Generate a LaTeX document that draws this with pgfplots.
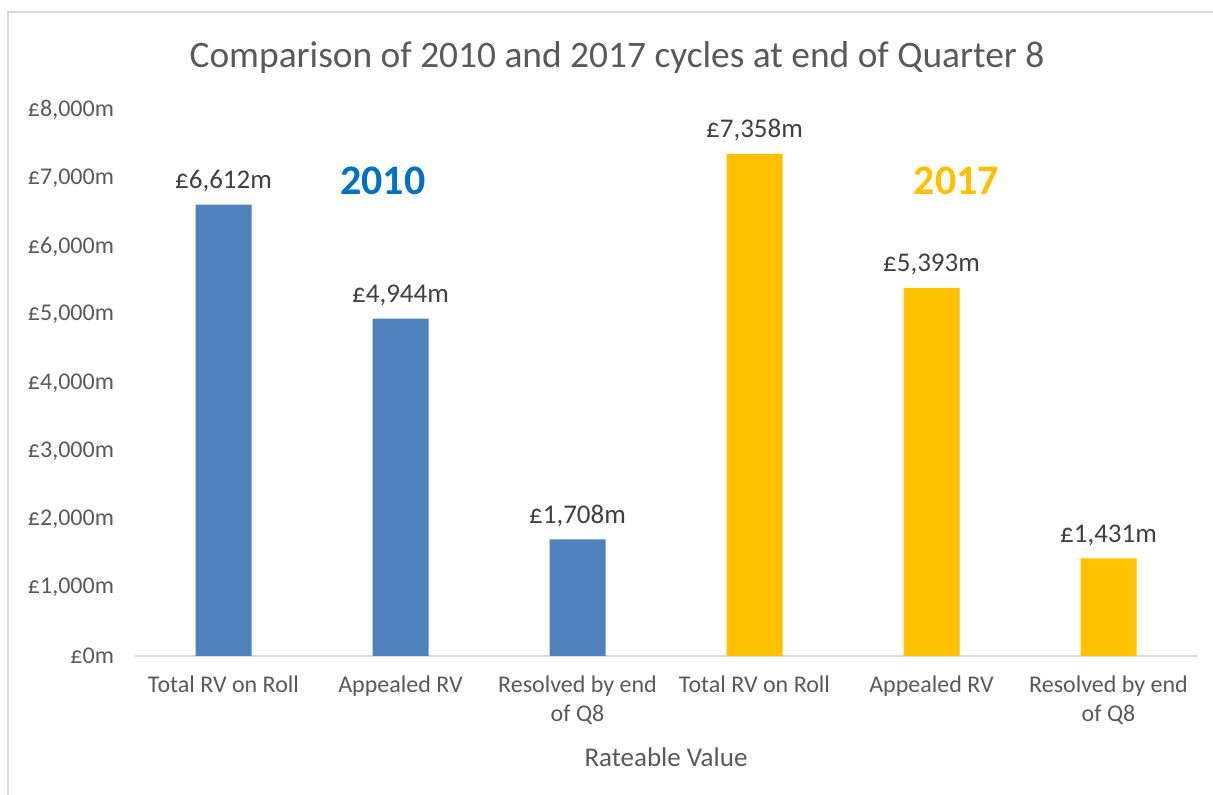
\documentclass[border=0pt]{standalone}
\usepackage{fontspec}
\setmainfont{Carlito}
\usepackage{pgfplots}
\pgfplotsset{compat=1.18}

\definecolor{bar10}{HTML}{4F81BD}
\definecolor{bar17}{HTML}{FFC000}
\definecolor{yr10}{HTML}{0070C0}
\definecolor{txtgray}{HTML}{595959}
\definecolor{lblgray}{HTML}{404040}
\definecolor{framegray}{HTML}{D9D9D9}

\pgfkeys{/pgf/number format/.cd, fixed, precision=0, 1000 sep={,}, assume math mode=true}

\begin{document}
\begin{tikzpicture}[x=1pt,y=1pt]
\useasboundingbox (0,0) rectangle (606.5,397.5);
\draw[framegray, line width=0.8pt] (4,0) -- (4,391.5) -- (606.5,391.5);
\node[txtgray, font=\fontsize{18.7}{22}\selectfont] at (308.5,368.5)
  {Comparison of 2010 and 2017 cycles at end of Quarter 8};

\begin{axis}[
    at={(67.5pt,69.5pt)}, anchor=south west,
    scale only axis,
    width=531pt, height=273pt,
    xmin=-0.5, xmax=5.5,
    ymin=0, ymax=8000,
    clip=false,
    axis x line*=bottom,
    axis y line*=left,
    x axis line style={framegray, line width=0.8pt, -},
    y axis line style={draw=none},
    major tick length=0pt,
    ytick={0,1000,...,8000},
    scaled y ticks=false,
    yticklabel={£\pgfmathprintnumber{\tick}m},
    yticklabel style={text=txtgray, font=\fontsize{12}{13}\selectfont, xshift=-7pt},
    xtick={0,...,5},
    xticklabels={Total RV on Roll, Appealed RV, {Resolved by end\\of Q8},
                 Total RV on Roll, Appealed RV, {Resolved by end\\of Q8}},
    xticklabel style={align=center, text=txtgray, font=\fontsize{12}{14.5}\selectfont, yshift=-6.5pt},
    ybar,
    bar width=28pt,
    bar shift=0pt,
    nodes near coords={£\pgfmathprintnumber{\pgfplotspointmeta}m},
    nodes near coords style={text=lblgray, font=\fontsize{13.5}{15}\selectfont, yshift=2.7pt},
]
\addplot[fill=bar10, draw=none] coordinates {(0,6612) (1,4944) (2,1708)};
\addplot[fill=bar17, draw=none] coordinates {(3,7358) (4,5393) (5,1431)};

\node[yr10, font=\bfseries\fontsize{21}{24}\selectfont] at (axis cs:0.9,6956) {2010};
\node[bar17, font=\bfseries\fontsize{21}{24}\selectfont] at (axis cs:4.14,6956) {2017};
\end{axis}

\node[txtgray, font=\fontsize{13.5}{15}\selectfont] at (333,19) {Rateable Value};
\end{tikzpicture}
\end{document}
